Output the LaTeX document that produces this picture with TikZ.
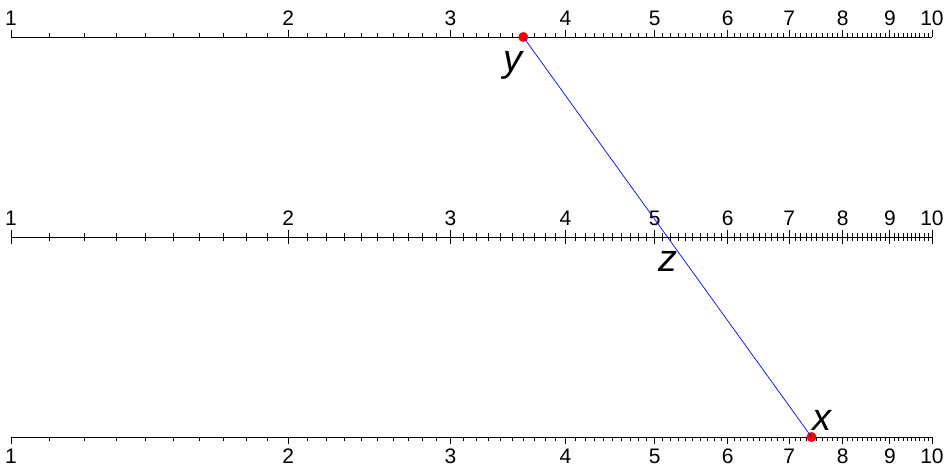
\documentclass[tikz,border=0pt]{standalone}
\usepackage{fontspec}
\setmainfont{Liberation Sans}
\usetikzlibrary{calc}

% position of a value on the log scales
\newcommand{\scalex}[1]{11+921*log10(#1)}

\begin{document}
\begin{tikzpicture}[
    x=1pt, y=-1pt,
    scaleline/.style={line width=0.9pt},
    minortick/.style={line width=0.8pt},
    num/.style={font=\fontsize{21pt}{21pt}\selectfont, inner sep=0pt},
    var/.style={font=\fontsize{38pt}{38pt}\selectfont\itshape, inner sep=0pt, anchor=base},
    reddot/.style={circle, fill=red, inner sep=0pt, minimum size=10pt},
    guide/.style={blue, line width=0.7pt}
]
\useasboundingbox (0,0) rectangle (947,470);

% top scale
\draw[scaleline] ({\scalex{1}},37) -- ({\scalex{10}},37);
\foreach \i in {11,...,99}
    \draw[minortick] ({\scalex{\i/10}},37) -- ++(0,-4);
\foreach \n in {1,...,10} {
    \draw[minortick] ({\scalex{\n}},37) -- ++(0,-7);
    \node[num] (top\n) at ({\scalex{\n}},18) {\n};
}

% middle scale
\draw[scaleline] ({\scalex{1}},237) -- ({\scalex{10}},237);
\foreach \i in {11,...,99}
    \draw[minortick] ({\scalex{\i/10}},233) -- ++(0,8);
\foreach \n in {1,...,10} {
    \draw[minortick] ({\scalex{\n}},230) -- ++(0,14);
    \node[num] (mid\n) at ({\scalex{\n}},218) {\n};
}

% bottom scale
\draw[scaleline] ({\scalex{1}},437) -- ({\scalex{10}},437);
\foreach \i in {11,...,99}
    \draw[minortick] ({\scalex{\i/10}},437) -- ++(0,4);
\foreach \n in {1,...,10} {
    \draw[minortick] ({\scalex{\n}},437) -- ++(0,7);
    \node[num] (bot\n) at ({\scalex{\n}},456) {\n};
}

% index line
\node[reddot] (ydot) at ({\scalex{3.6}},37) {};
\node[reddot] (xdot) at ({\scalex{7.4}},437) {};
\draw[guide] (ydot.center) -- (xdot.center);

\node[var] (ylbl) at (513,72) {y};
\node[var] (zlbl) at (668,272) {z};
\node[var] (xlbl) at (822,430) {x};

\end{tikzpicture}
\end{document}
